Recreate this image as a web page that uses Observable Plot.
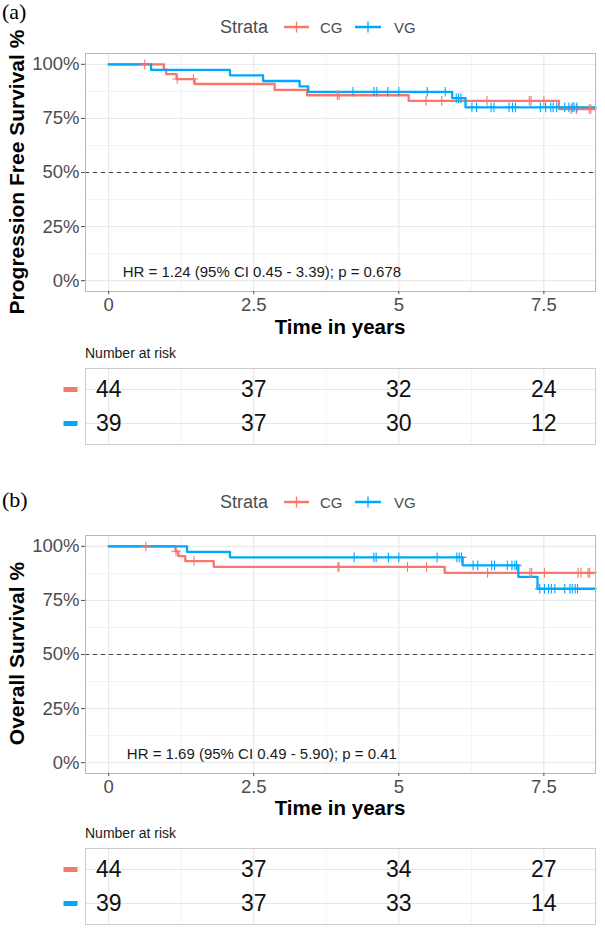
<!DOCTYPE html>
<html><head><meta charset="utf-8">
<script src="https://cdn.jsdelivr.net/npm/d3@7"></script>
<script src="https://cdn.jsdelivr.net/npm/@observablehq/plot@0.6"></script>
<style>
html,body{margin:0;padding:0;background:#fff;}
#root{position:relative;width:605px;height:932px;overflow:hidden;background:#fff;font-family:"Liberation Sans",Arial,sans-serif;}
#root svg{position:absolute;left:0;}
</style></head><body><div id="root"></div>
<script>
// ---------- data ----------
const groups = ["CG", "VG"];
const xTicks = [0, 2.5, 5, 7.5];
const xMinor = [1.25, 3.75, 6.25];
const yTicks = [0, 25, 50, 75, 100];
const yMinor = [12.5, 37.5, 62.5, 87.5];

// (a) Progression free survival
const pfsTimeCG = [0, 0.95, 0.99, 1.17, 1.48, 2.86, 3.42, 5.17, 7.76, 8.39];
const pfsSurvCG = [100, 97.7, 95.5, 93.2, 90.9, 88.2, 85.7, 83.1, 79.3, 79.3];
const pfsTimeVG = [0, 0.73, 2.09, 2.66, 3.29, 3.44, 5.92, 6.15, 8.39];
const pfsSurvVG = [100, 97.4, 94.9, 92.3, 89.8, 87.3, 84.4, 80.1, 80.1];
const pfsCensCG = [0.62, 1.18, 1.46, 3.94, 3.97, 5.47, 5.74, 6.52, 7.25, 7.28, 7.5, 7.97, 8.06, 8.28, 8.31];
const pfsCensVG = [4.21, 4.57, 4.62, 4.81, 5.0, 5.49, 5.8, 5.99, 6.03, 6.07, 6.26, 6.34, 6.59, 6.64, 6.9, 6.96, 7.01, 7.44, 7.53, 7.62, 7.66, 7.72, 7.86, 7.93, 7.99, 8.02, 8.07];
const pfsHR = "HR = 1.24 (95% CI 0.45 - 3.39); p = 0.678";
const pfsRiskCG = [44, 37, 32, 24];
const pfsRiskVG = [39, 37, 30, 12];

// (b) Overall survival
const osTimeCG = [0, 1.15, 1.2, 1.32, 1.81, 5.79, 8.39];
const osSurvCG = [100, 97.7, 95.5, 93.2, 90.5, 87.7, 87.7];
const osTimeVG = [0, 1.35, 2.09, 6.1, 7.06, 7.39, 8.39];
const osSurvVG = [100, 97.4, 94.9, 91.2, 85.9, 80.4, 80.4];
const osCensCG = [0.64, 1.16, 1.47, 3.95, 3.97, 5.15, 5.48, 6.53, 7.26, 7.29, 7.51, 8.09, 8.14, 8.26, 8.29];
const osCensVG = [4.23, 4.57, 4.61, 4.82, 5.0, 5.66, 6.0, 6.04, 6.08, 6.28, 6.36, 6.6, 6.65, 6.87, 6.95, 7.0, 7.03, 7.43, 7.51, 7.58, 7.63, 7.69, 7.86, 7.95, 7.99, 8.04, 8.08];
const osHR = "HR = 1.69 (95% CI 0.49 - 5.90); p = 0.41";
const osRiskCG = [44, 37, 34, 27];
const osRiskVG = [39, 37, 33, 14];

const riskTimes = [0, 2.5, 5, 7.5];

// ---------- styles ----------
const RED = "#F8766D", BLUE = "#00A9FF";
const X_DOMAIN = [-0.4, 8.39];
const SANS = "Liberation Sans, Arial, sans-serif";

function survAt(times, surv, t) {
  let v = surv[0];
  for (let i = 0; i < times.length; i++) if (times[i] <= t) v = surv[i];
  return v;
}

const barSymbol = {
  draw(ctx) { ctx.moveTo(-7, -2.5); ctx.lineTo(7, -2.5); ctx.lineTo(7, 2.5); ctx.lineTo(-7, 2.5); ctx.closePath(); }
};

function curvePanel(cgT, cgS, vgT, vgS, cgC, vgC, hr) {
  const lines = [
    ...cgT.map((t, i) => ({g: "CG", t, s: cgS[i]})),
    ...vgT.map((t, i) => ({g: "VG", t, s: vgS[i]}))
  ];
  const cens = [
    ...cgC.map(t => ({g: "CG", t, s: survAt(cgT, cgS, t)})),
    ...vgC.map(t => ({g: "VG", t, s: survAt(vgT, vgS, t)}))
  ];
  return Plot.plot({
    width: 605, height: 300,
    marginTop: 13, marginBottom: 49, marginLeft: 85, marginRight: 10,
    style: {fontFamily: SANS, fontSize: "18.5px", color: "#4d4d4d", background: "transparent"},
    x: {domain: X_DOMAIN},
    y: {domain: [-5, 105]},
    color: {domain: groups, range: [RED, BLUE]},
    marks: [
      Plot.ruleX(xMinor, {stroke: "#f3f3f3"}),
      Plot.ruleY(yMinor, {stroke: "#f3f3f3"}),
      Plot.ruleX(xTicks, {stroke: "#e6e6e6"}),
      Plot.ruleY(yTicks, {stroke: "#e6e6e6"}),
      Plot.ruleY([50], {stroke: "#444", strokeDasharray: "4,4", strokeWidth: 1}),
      Plot.line(lines, {x: "t", y: "s", z: "g", stroke: "g", curve: "step-after", strokeWidth: 2.3}),
      Plot.dot(cens, {x: "t", y: "s", stroke: "g", symbol: "plus", r: 3.2, strokeWidth: 1.1}),
      Plot.text([hr], {x: () => 2.64, y: () => 4, text: d => d, fontSize: 15, fill: "#1a1a1a", textAnchor: "middle"}),
      Plot.frame({stroke: "#b8b8b8"}),
      Plot.axisX(xTicks, {tickSize: 3, tickPadding: 3, tickFormat: d => String(d), label: null}),
      Plot.axisY(yTicks, {tickSize: 4, tickPadding: 2, tickFormat: d => d + "%", label: null})
    ]
  });
}

function riskTable(cg, vg) {
  const rows = [
    ...riskTimes.map((t, i) => ({g: "CG", t, n: cg[i]})),
    ...riskTimes.map((t, i) => ({g: "VG", t, n: vg[i]}))
  ];
  return Plot.plot({
    width: 605, height: 90,
    marginTop: 8, marginBottom: 6, marginLeft: 85, marginRight: 10,
    style: {fontFamily: SANS, fontSize: "23px", color: "#111", background: "transparent"},
    x: {domain: X_DOMAIN, axis: null},
    y: {type: "point", domain: groups, padding: 0.6, axis: null},
    color: {domain: groups, range: [RED, BLUE]},
    marks: [
      Plot.ruleX(xMinor, {stroke: "#f3f3f3"}),
      Plot.ruleX(xTicks, {stroke: "#e6e6e6"}),
      Plot.ruleY(groups, {y: d => d, stroke: "#e6e6e6"}),
      Plot.text(rows, {x: "t", y: "g", text: d => String(d.n), fontSize: 23, fill: "#111"}),
      Plot.dot(groups, {x: () => X_DOMAIN[0], y: d => d, fill: d => d, stroke: "none", symbol: barSymbol, r: 4, dx: -15}),
      Plot.frame({stroke: "#cccccc"})
    ]
  });
}

const root = document.getElementById("root");
function place(svg, top) { svg.style.position = "absolute"; svg.style.top = top + "px"; svg.style.left = "0px"; root.appendChild(svg); }

const offB = 481.5, toffB = 480;
place(curvePanel(pfsTimeCG, pfsSurvCG, pfsTimeVG, pfsSurvVG, pfsCensCG, pfsCensVG, pfsHR), 40);
place(riskTable(pfsRiskCG, pfsRiskVG), 360);
place(curvePanel(osTimeCG, osSurvCG, osTimeVG, osSurvVG, osCensCG, osCensVG, osHR), 40 + offB);
place(riskTable(osRiskCG, osRiskVG), 360 + toffB);

// ---------- overlay text: titles, legends ----------
const ov = d3.select(root).append("svg").attr("width", 605).attr("height", 932)
  .style("position", "absolute").style("top", "0px").style("left", "0px").style("pointer-events", "none");

function txt(x, y, s, o = {}) {
  return ov.append("text").attr("x", x).attr("y", y).text(s)
    .attr("font-family", o.family || SANS).attr("font-size", o.size || 15)
    .attr("font-weight", o.weight || "normal").attr("fill", o.fill || "#000")
    .attr("text-anchor", o.anchor || "start");
}

function legend(base) {
  const cy = base - 6;
  txt(220, base, "Strata", {size: 18, fill: "#4d4d4d"});
  [[RED, 284, 309, "CG", 320], [BLUE, 355, 381, "VG", 394]].forEach(([c, x1, x2, lab, tx]) => {
    ov.append("line").attr("x1", x1).attr("x2", x2).attr("y1", cy).attr("y2", cy).attr("stroke", c).attr("stroke-width", 2.5);
    const xm = (x1 + x2) / 2;
    ov.append("line").attr("x1", xm).attr("x2", xm).attr("y1", cy - 5.5).attr("y2", cy + 5.5).attr("stroke", c).attr("stroke-width", 1.3);
    txt(tx, base - 0.5, lab, {size: 15, fill: "#4d4d4d"});
  });
}

function panelTexts(off, toff, ytitle) {
  ov.append("text").attr("transform", `translate(23.5,${172 + off}) rotate(-90)`)
    .attr("text-anchor", "middle").attr("font-family", SANS).attr("font-size", 21)
    .attr("font-weight", "bold").attr("fill", "#000").text(ytitle);
  txt(340, 333.5 + off, "Time in years", {size: 20.5, weight: "bold", anchor: "middle"});
  txt(85, 357.5 + toff, "Number at risk", {size: 14, fill: "#1a1a1a"});
}

txt(2, 19, "(a)", {family: "Liberation Serif, Times New Roman, serif", size: 22});
txt(2, 507, "(b)", {family: "Liberation Serif, Times New Roman, serif", size: 22});
legend(33);
legend(508);
panelTexts(0, 0, "Progression Free Survival %");
panelTexts(offB, toffB, "Overall Survival %");
</script></body></html>
